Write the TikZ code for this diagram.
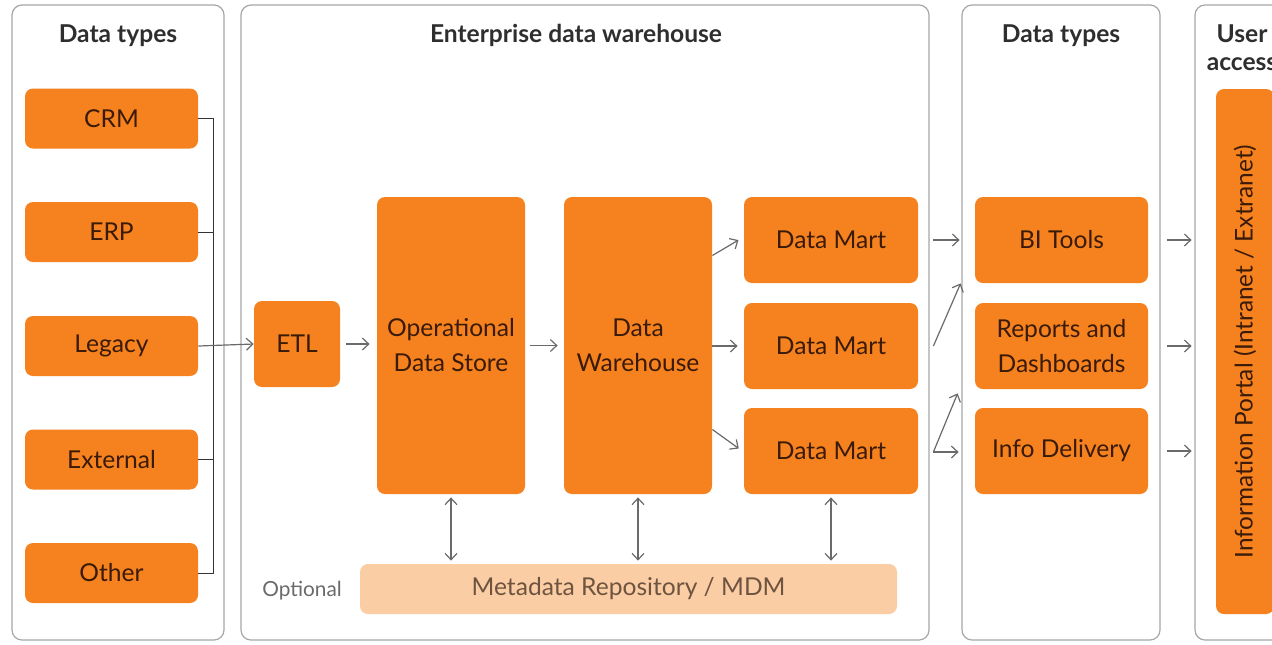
\documentclass[tikz,border=0pt]{standalone}
\usepackage{fontspec}
\setmainfont{Lato}
\usetikzlibrary{arrows.meta,calc}
\definecolor{org}{HTML}{F5821F}
\definecolor{orgtxt}{HTML}{3A1A08}
\definecolor{lightorg}{HTML}{FBCDA4}
\definecolor{metatxt}{HTML}{6E5440}
\definecolor{panelgray}{HTML}{A6A6AC}
\definecolor{arrowgray}{HTML}{6A6A6A}
\definecolor{titletxt}{HTML}{2E2E2E}
\tikzset{
  panel/.style={draw=panelgray, line width=0.6pt, rounded corners=5pt, fill=white},
  obox/.style={fill=org, rounded corners=4pt, text=orgtxt, font=\fontsize{12.3}{17.5}\selectfont, align=center, inner sep=0pt},
  ptitle/.style={font=\bfseries\fontsize{12.3}{14}\selectfont, text=titletxt, anchor=north, align=center, inner sep=0pt},
  arr/.style={draw=arrowgray, line width=0.6pt, -{Straight Barb[length=3.2pt,width=6pt]}},
  darr/.style={draw=arrowgray, line width=0.6pt, {Straight Barb[length=3.2pt,width=6pt]}-{Straight Barb[length=3.2pt,width=6pt]}},
  brk/.style={draw=black!80, line width=0.5pt}
}
\begin{document}
\begin{tikzpicture}[x=0.5pt,y=-0.5pt]
\useasboundingbox (0,0) rectangle (1272,644);
\fill[white] (0,0) rectangle (1272,644);
% panels
\draw[panel] (12,5) rectangle (224,640);
\draw[panel] (241,5) rectangle (929,640);
\draw[panel] (962,5) rectangle (1160,640);
\draw[panel] (1195,5) rectangle (1300,640);
% titles
\node[ptitle] (t1) at (118,24) {Data types};
\node[ptitle] (t2) at (576,24) {Enterprise data warehouse};
\node[ptitle] (t3) at (1061,24) {Data types};
\node[ptitle] (t4) at (1242,24) {User\\access};
% sources
\node[obox, minimum width=86.5pt, minimum height=30pt] (crm) at (111.5,118.5) {CRM};
\node[obox, minimum width=86.5pt, minimum height=30pt] (erp) at (111.5,232) {ERP};
\node[obox, minimum width=86.5pt, minimum height=30pt] (legacy) at (111.5,346) {Legacy};
\node[obox, minimum width=86.5pt, minimum height=30pt] (external) at (111.5,459.5) {External};
\node[obox, minimum width=86.5pt, minimum height=30pt] (other) at (111.5,573) {Other};
% bracket
\coordinate (bt) at (213,118.5);
\coordinate (bb) at (213,573);
\draw[brk] (crm.east) -- (bt) -- (bb) -- (other.east);
\draw[brk] (erp.east) -- (erp.east -| bt);
\draw[brk] (external.east) -- (external.east -| bt);
% EDW
\node[obox, minimum width=43pt, minimum height=43pt] (etl) at (297,344) {ETL};
\node[obox, minimum width=74pt, minimum height=148.5pt] (ods) at (451,345.5) {Operational\\Data Store};
\node[obox, minimum width=74pt, minimum height=148.5pt] (dw) at (638,345.5) {Data\\Warehouse};
\node[obox, minimum width=87pt, minimum height=43pt] (dm1) at (831,240) {Data Mart};
\node[obox, minimum width=87pt, minimum height=43pt] (dm2) at (831,346) {Data Mart};
\node[obox, minimum width=87pt, minimum height=43pt] (dm3) at (831,451) {Data Mart};
\node[fill=lightorg, rounded corners=4pt, minimum width=268.5pt, minimum height=25pt, inner sep=0pt, text=metatxt, font=\fontsize{12.3}{14}\selectfont] (meta) at (628.5,589) {Metadata Repository / MDM};
\node[text=arrowgray, font=\fontsize{10.4}{12}\selectfont, inner sep=0pt] (opt) at (302,591) {Optional};
% arrows in EDW
\draw[arr] (legacy.east) -- (etl.west);
\draw[arr, shorten <=3pt, shorten >=3.5pt] (etl.east) -- (ods.west |- etl.east);
\draw[arr, shorten <=2.5pt, shorten >=3pt] (ods.east) -- (dw.west);
\draw[arr, shorten >=3pt] ([yshift=45pt]dw.east) -- ([yshift=1.5pt]dm1.west);
\draw[arr, shorten >=3pt] (dw.east |- dm2.west) -- (dm2.west);
\draw[arr, shorten >=3pt] ([yshift=-42pt]dw.east) -- ([yshift=-0.5pt]dm3.west);
\draw[darr, shorten <=1.5pt, shorten >=1.5pt] (ods.south) -- (ods.south |- meta.north);
\draw[darr, shorten <=1.5pt, shorten >=1.5pt] (dw.south) -- (dw.south |- meta.north);
\draw[darr, shorten <=1.5pt, shorten >=1.5pt] (dm3.south) -- (dm3.south |- meta.north);
% delivery
\node[obox, minimum width=86.5pt, minimum height=43pt] (bi) at (1061.5,240) {BI Tools};
\node[obox, minimum width=86.5pt, minimum height=43pt] (rep) at (1061.5,346) {Reports and\\Dashboards};
\node[obox, minimum width=86.5pt, minimum height=43pt] (info) at (1061.5,451) {Info Delivery};
\coordinate (j2) at ([xshift=7.5pt]dm2.east);
\coordinate (j3) at ([xshift=7.5pt,yshift=-0.5pt]dm3.east);
\draw[arr, shorten <=7.5pt, shorten >=7.5pt] (dm1.east) -- (bi.west);
\draw[arr] (j2) -- ([xshift=-7pt]bi.south west);
\draw[arr] (j3) -- ([xshift=-8.5pt,yshift=-2pt]rep.south west);
\draw[arr] (j3) -- ([xshift=-8pt]info.west |- j3);
% portal
\node[obox, minimum width=29pt, minimum height=262.5pt] (portal) at (1245,351.5) {};
\node[rotate=90, text=orgtxt, font=\fontsize{12.2}{14}\selectfont, inner sep=0pt] (portaltxt) at (portal.center) {Information Portal (Intranet / Extranet)};
\draw[arr, shorten <=9.5pt, shorten >=12pt] (bi.east) -- (portal.west |- bi.east);
\draw[arr, shorten <=9.5pt, shorten >=12pt] (rep.east) -- (portal.west |- rep.east);
\draw[arr, shorten <=9.5pt, shorten >=12pt] (info.east) -- (portal.west |- info.east);
\end{tikzpicture}
\end{document}
